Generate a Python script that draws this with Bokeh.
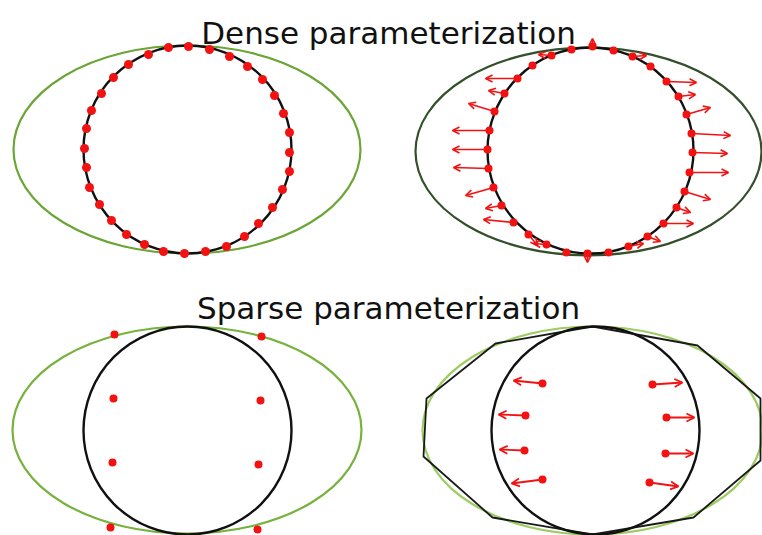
from bokeh.plotting import figure
from bokeh.models import Range1d, ColumnDataSource, Arrow, OpenHead
from bokeh.core.properties import value
from bokeh.embed import file_html
from bokeh.resources import INLINE

# ---------------- data (pixel-like units) ----------------
titles = ["Dense parameterization", "Sparse parameterization"]
title_x = [388, 388]
title_y = [32, 307]

# outer ellipses: center x, center y, width, height
ell_x = [186.5, 588, 186.5, 592]
ell_y = [149, 151, 429.5, 430]
ell_w = [347, 346, 349, 340]
ell_h = [208, 208, 207, 208]
ell_color = ["#6aa535", "#34502a", "#76b23c", "#9ccc62"]

# inner circles: center x, center y, diameter
circ_x = [187, 590, 187, 595]
circ_y = [149, 150, 430, 430]
circ_d = [208, 206, 208, 208]

# dense panel (left): samples on the circle
dense_x = [188, 209, 229, 247, 262, 274, 283, 289, 289, 289, 282, 272, 258, 244, 226, 205,
           184, 163, 144, 126, 111, 99, 89, 86, 84, 86, 91, 101, 113, 128, 148, 168]
dense_y = [46, 49, 56, 66, 79, 95, 113, 132, 152, 171, 189, 207, 223, 236, 246, 251,
           253, 251, 244, 234, 220, 204, 187, 167, 148, 128, 110, 93, 77, 64, 54, 47]

# dense panel (right): samples on the circle + displacement arrows
dense2_x = [592, 613, 632, 650, 666, 678, 686, 691, 692, 689, 684, 676, 663, 647, 628, 608,
            587, 566, 546, 528, 513, 501, 493, 488, 487, 489, 494, 504, 517, 532, 551, 571]
dense2_y = [46, 50, 56, 66, 81, 96, 114, 133, 152, 172, 191, 207, 223, 236, 246, 252,
            253, 252, 244, 234, 222, 205, 187, 168, 149, 130, 111, 93, 78, 65, 55, 49]
darrow_x0 = [592, 632, 666, 678, 686, 691, 692, 689, 684, 676, 663, 647, 628, 587,
             546, 528, 513, 501, 493, 488, 487, 489, 494, 504, 517, 551]
darrow_y0 = [46, 56, 81, 96, 114, 133, 152, 172, 191, 207, 223, 236, 246, 253,
             244, 234, 222, 205, 187, 168, 149, 130, 111, 93, 78, 55]
darrow_x1 = [592, 646, 696, 695, 710, 730, 727, 728, 710, 690, 693, 660, 643, 587,
             533, 537, 483, 485, 465, 453, 452, 452, 468, 488, 485, 538]
darrow_y1 = [38, 55, 82, 94, 107, 135, 153, 172, 199, 212, 223, 241, 243, 262,
             243, 245, 219, 208, 195, 167, 149, 130, 103, 90, 78, 54]

# sparse panel (left): control points
sparse_x = [114, 261, 113, 260, 112, 258, 110, 257]
sparse_y = [334, 336, 398, 400, 462, 464, 527, 529]

# sparse panel (right): control polygon + points with arrows
poly_x = [592, 697, 760, 760, 693, 592, 492, 423, 426, 495]
poly_y = [326, 345, 398, 460, 517, 534, 517, 456, 398, 343]
sarrow_x0 = [542, 525, 524, 542, 652, 666, 665, 649]
sarrow_y0 = [383, 415, 450, 479, 384, 417, 453, 482]
sarrow_x1 = [513, 498, 499, 511, 682, 694, 693, 678]
sarrow_y1 = [380, 414, 449, 483, 382, 417, 453, 486]

# ---------------- figure ----------------
p = figure(width=762, height=535, output_backend="svg", toolbar_location=None,
           x_range=Range1d(0, 762), y_range=Range1d(535, 0),
           x_axis_location=None, y_axis_location=None, min_border=0,
           background_fill_color="white", border_fill_color="white")
p.grid.visible = False
p.outline_line_color = None

# outer ellipses
p.ellipse(x=ell_x, y=ell_y, width=ell_w, height=ell_h, fill_alpha=0,
          line_color=ell_color, line_width=2.2)

# control polygon (sparse right)
p.patch(poly_x, poly_y, fill_alpha=0, line_color="#1a1a1a", line_width=1.8)

# circles
p.ellipse(x=circ_x, y=circ_y, width=circ_d, height=circ_d, fill_alpha=0,
          line_color="#111111", line_width=2.4)

red = "#f21212"

# arrows
src_d = ColumnDataSource(dict(x0=darrow_x0, y0=darrow_y0, x1=darrow_x1, y1=darrow_y1))
p.add_layout(Arrow(end=OpenHead(size=7, line_color=red, line_width=1.6),
                   x_start="x0", y_start="y0", x_end="x1", y_end="y1",
                   source=src_d, line_color=red, line_width=1.6))
src_s = ColumnDataSource(dict(x0=sarrow_x0, y0=sarrow_y0, x1=sarrow_x1, y1=sarrow_y1))
p.add_layout(Arrow(end=OpenHead(size=8, line_color=red, line_width=1.8),
                   x_start="x0", y_start="y0", x_end="x1", y_end="y1",
                   source=src_s, line_color=red, line_width=1.8))

# points
p.scatter(dense_x, dense_y, size=9, color=red, line_color=None)
p.scatter(dense2_x, dense2_y, size=8, color=red, line_color=None)
p.scatter(sparse_x, sparse_y, size=8, color=red, line_color=None)
p.scatter(sarrow_x0, sarrow_y0, size=8, color=red, line_color=None)

# titles
p.text(x=title_x, y=title_y, text=titles, text_align="center", text_baseline="alphabetic",
       text_font=value("DejaVu Sans"), text_font_size="31px", text_color="#111111")

open("out.html", "w").write(file_html(p, INLINE))
